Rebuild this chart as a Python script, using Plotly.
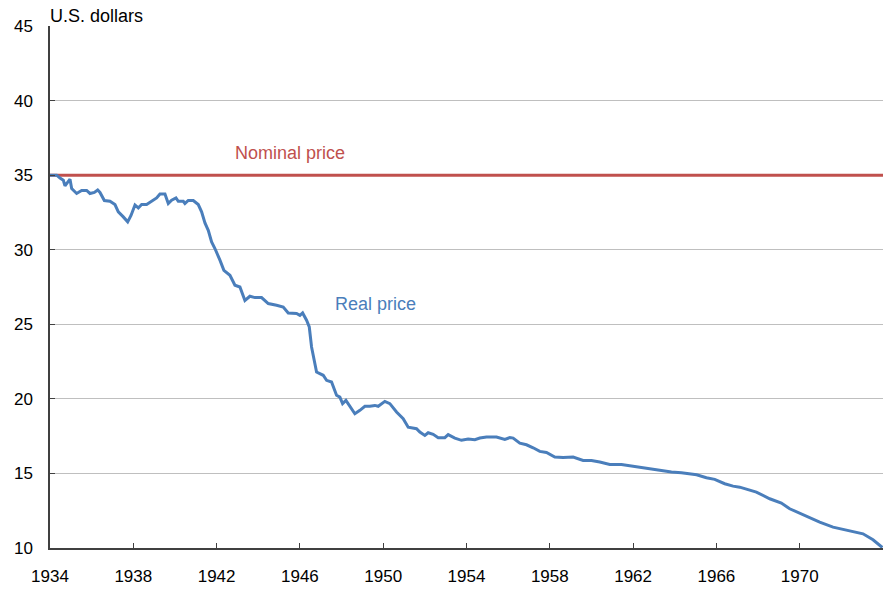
import plotly.graph_objects as go

# Real price of gold (1934 dollars fixed at $35 nominal)
years = [1934.0, 1934.32, 1934.48, 1934.64, 1934.72, 1934.85, 1934.96, 1935.04, 1935.28, 1935.52,
         1935.76, 1935.92, 1936.13, 1936.29, 1936.4, 1936.61, 1936.88, 1937.12, 1937.28, 1937.52,
         1937.73, 1937.89, 1938.08, 1938.24, 1938.4, 1938.64, 1938.88, 1939.12, 1939.28, 1939.52,
         1939.68, 1939.84, 1940.05, 1940.16, 1940.4, 1940.48, 1940.64, 1940.88, 1941.12, 1941.28,
         1941.44, 1941.6, 1941.76, 1941.92, 1942.16, 1942.35, 1942.64, 1942.88, 1943.12, 1943.36,
         1943.6, 1943.84, 1944.16, 1944.48, 1944.88, 1945.2, 1945.44, 1945.84, 1946.0, 1946.13,
         1946.32, 1946.45, 1946.56, 1946.64, 1946.8, 1947.12, 1947.28, 1947.52, 1947.76, 1947.92,
         1948.05, 1948.21, 1948.4, 1948.64, 1948.88, 1949.12, 1949.36, 1949.6, 1949.76, 1950.08,
         1950.32, 1950.64, 1950.96, 1951.2, 1951.6, 1951.76, 1952.0, 1952.16, 1952.4, 1952.64,
         1952.96, 1953.12, 1953.44, 1953.76, 1954.08, 1954.4, 1954.64, 1954.96, 1955.44, 1955.84,
         1956.08, 1956.24, 1956.56, 1956.88, 1957.2, 1957.52, 1957.84, 1958.24, 1958.64, 1959.12,
         1959.6, 1960.0, 1960.4, 1960.88, 1961.44, 1962.0, 1962.8, 1963.36, 1963.84, 1964.32,
         1965.05, 1965.52, 1965.92, 1966.4, 1966.8, 1967.12, 1967.6, 1967.92, 1968.56, 1969.12,
         1969.52, 1970.0, 1970.56, 1970.96, 1971.6, 1972.4, 1973.04, 1973.52, 1973.97]
real_price = [35.0, 35.0, 34.8, 34.66, 34.28, 34.5, 34.73, 34.1, 33.77, 33.97,
              33.97, 33.77, 33.84, 34.0, 33.84, 33.3, 33.25, 33.03, 32.54, 32.2,
              31.87, 32.3, 33.0, 32.8, 33.03, 33.03, 33.25, 33.47, 33.74, 33.74,
              33.1, 33.32, 33.47, 33.25, 33.25, 33.1, 33.3, 33.3, 33.03, 32.54,
              31.8, 31.3, 30.52, 30.08, 29.3, 28.62, 28.29, 27.62, 27.5, 26.6,
              26.88, 26.79, 26.79, 26.39, 26.28, 26.16, 25.76, 25.72, 25.6, 25.76,
              25.27, 24.82, 23.48, 22.92, 21.8, 21.58, 21.24, 21.13, 20.24, 20.12,
              19.68, 19.9, 19.5, 19.0, 19.23, 19.5, 19.5, 19.56, 19.5, 19.83,
              19.68, 19.12, 18.67, 18.1, 18.0, 17.77, 17.55, 17.73, 17.62, 17.4,
              17.4, 17.6, 17.37, 17.22, 17.3, 17.26, 17.37, 17.44, 17.44, 17.28,
              17.4, 17.37, 17.03, 16.92, 16.72, 16.48, 16.41, 16.1, 16.06, 16.1,
              15.87, 15.87, 15.76, 15.6, 15.6, 15.49, 15.31, 15.2, 15.09, 15.05,
              14.91, 14.71, 14.6, 14.31, 14.15, 14.08, 13.86, 13.75, 13.3, 13.01,
              12.63, 12.34, 11.96, 11.73, 11.4, 11.17, 10.95, 10.55, 10.03]
nominal_years = [1934.0, 1974.0]
nominal_price = [35.0, 35.0]

x_ticks = [1934, 1938, 1942, 1946, 1950, 1954, 1958, 1962, 1966, 1970, 1974]
x_tick_labels = ["1934", "1938", "1942", "1946", "1950", "1954", "1958", "1962", "1966", "1970", ""]
y_ticks = [10, 15, 20, 25, 30, 35, 40, 45]

RED = "#C0504D"
BLUE = "#4A7EBB"
FONT = "Liberation Sans, Arial, sans-serif"

fig = go.Figure()
fig.add_trace(go.Scatter(x=nominal_years, y=nominal_price, mode="lines",
                         line=dict(color=RED, width=3), showlegend=False, hoverinfo="skip"))
fig.add_trace(go.Scatter(x=years, y=real_price, mode="lines",
                         line=dict(color=BLUE, width=3), showlegend=False, hoverinfo="skip"))

fig.add_annotation(x=1945.52, y=36.48, text="Nominal price", showarrow=False,
                   font=dict(color=RED, size=18, family=FONT))
fig.add_annotation(x=1949.65, y=26.34, text="Real price", showarrow=False,
                   font=dict(color=BLUE, size=18, family=FONT))
fig.add_annotation(x=0, y=1, xref="paper", yref="paper", text="U.S. dollars",
                   showarrow=False, xanchor="left", yanchor="bottom", xshift=-2, yshift=-2,
                   font=dict(color="#000000", size=18, family=FONT))

fig.update_layout(
    width=886, height=593,
    margin=dict(l=50, r=3, t=26, b=45, autoexpand=False),
    paper_bgcolor="white", plot_bgcolor="white",
    font=dict(family=FONT, size=17, color="#000000"),
    xaxis=dict(range=[1934, 1974], tickmode="array", tickvals=x_ticks, ticktext=x_tick_labels,
               showgrid=False, zeroline=False, showline=True, linecolor="#404040", linewidth=1.5,
               ticks="inside", ticklen=5, tickcolor="#404040", ticklabelstandoff=12,
               automargin=False),
    yaxis=dict(range=[10, 45], tickmode="array", tickvals=y_ticks,
               showgrid=True, gridcolor="#BFBFBF", gridwidth=1, zeroline=False,
               showline=True, linecolor="#404040", linewidth=1.5,
               ticks="inside", ticklen=5, tickcolor="#404040", ticklabelstandoff=12,
               automargin=False),
)

fig.write_html("out.html", config={"displayModeBar": False},
               post_script="document.body.style.margin='0';document.body.style.overflow='hidden';")
